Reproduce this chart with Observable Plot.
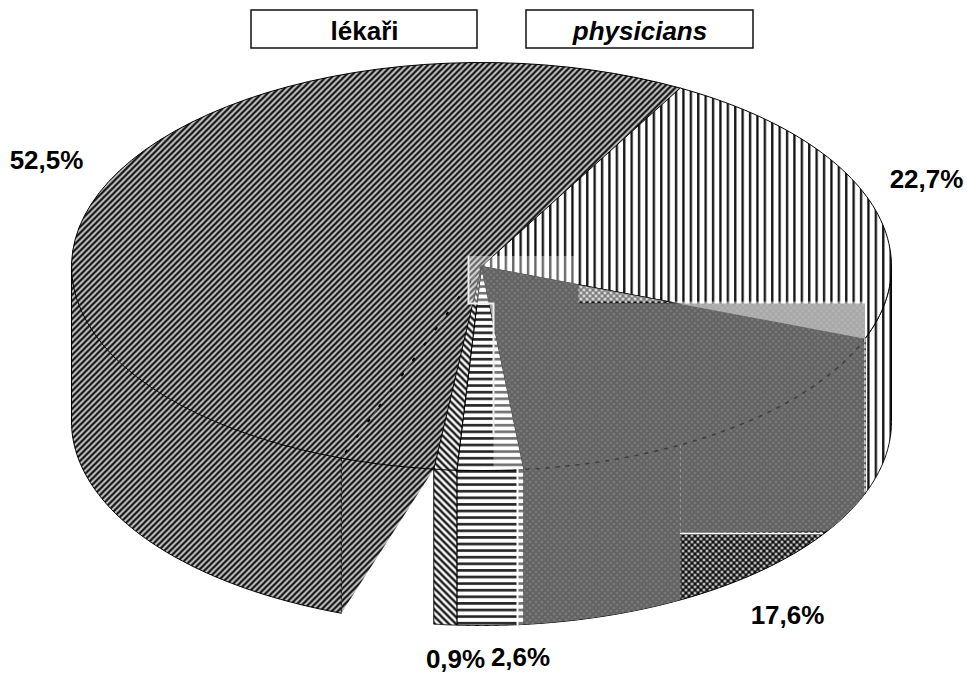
<!DOCTYPE html>
<html><head><meta charset="utf-8">
<script src="https://cdn.jsdelivr.net/npm/d3@7"></script>
<script src="https://cdn.jsdelivr.net/npm/@observablehq/plot@0.6"></script>
<style>html,body{margin:0;background:#fff}svg{display:block}</style>
</head><body>
<svg width="0" height="0" style="position:absolute"><defs>
<pattern id="pDiag" width="6" height="6" patternUnits="userSpaceOnUse"><rect width="6" height="6" fill="#dcdcdc"/><path d="M-1,1L1,-1M-1,7L7,-1M5,7L7,5" stroke="#0c0c0c" stroke-width="2.3"/></pattern>
<pattern id="pBack" width="7" height="7" patternUnits="userSpaceOnUse"><rect width="7" height="7" fill="#fff"/><path d="M-1,6L1,8M-1,-1L8,8M6,-1L8,1" stroke="#111" stroke-width="2.3"/></pattern>
<pattern id="pVert" width="7.4" height="8" patternUnits="userSpaceOnUse"><rect width="7.4" height="8" fill="#fff"/><rect x="1" width="2.3" height="8" fill="#111"/></pattern>
<pattern id="pHorz" width="8" height="6.6" patternUnits="userSpaceOnUse"><rect width="8" height="6.6" fill="#fff"/><rect y="1" width="8" height="2.6" fill="#222"/></pattern>
<pattern id="pCheck" width="6" height="6" patternUnits="userSpaceOnUse"><rect width="6" height="6" fill="#111"/><circle cx="1.5" cy="1.5" r="1.3" fill="#fff"/><circle cx="4.5" cy="4.5" r="1.3" fill="#fff"/></pattern>
<pattern id="pGray" width="6" height="6" patternUnits="userSpaceOnUse"><rect width="6" height="6" fill="#626262"/><circle cx="1.5" cy="1.5" r="1.1" fill="#8b8b8b"/><circle cx="4.5" cy="4.5" r="1.1" fill="#8b8b8b"/></pattern>
</defs></svg>
<script>
// Data
const categories = ["22,7%", "17,6%", "2,6%", "0,9%", "", "52,5%"];
const shares = [22.7, 17.6, 2.6, 0.9, 3.7, 52.5];
const fills = ["url(#pVert)", "url(#pCheck)", "url(#pHorz)", "url(#pBack)", "none", "url(#pDiag)"];
const titles = ["lékaři", "physicians"];

// Pie geometry
const cx = 481, cy = 266, rx = 410, ry = 204, depth = 155, start = 29;
const rim = (deg, drop = 0) => {
  const a = deg * Math.PI / 180;
  return {x: cx + rx * Math.sin(a), y: cy - ry * Math.cos(a) + drop};
};
const arc = (a0, a1, drop = 0) => d3.range(0, 61).map((i) => rim(a0 + (a1 - a0) * i / 60, drop));
let acc = start;
const slices = shares.map((v, i) => {
  const a0 = acc, a1 = acc + v * 3.6;
  acc = a1;
  return {label: categories[i], fill: fills[i], a0, a1};
});
const [sVert, sCheck, sHorz, sBack, sGap, sDiag] = slices;
const C = {x: cx, y: cy};
const face = (s) => [C, ...arc(s.a0, s.a1), C];
const wall = (a0, a1) => { const r = [...arc(a0, a1), ...arc(a1, a0, depth)]; r.push(r[0]); return r; };
const poly = (pts, fill, o = {}) => Plot.line(pts, {x: "x", y: "y", fill, stroke: "#000", strokeWidth: 1, curve: "linear", ...o});

const p340 = rim(sDiag.a0), p340b = rim(sDiag.a0, depth), pNotch = rim(sBack.a1);
const grayEdge = rim(sVert.a1);
const grayBottom = rim(sVert.a1, depth);
const horzEdge = rim(sCheck.a1);

// Scan patches over the 17,6% slice (the paste-up of the original page)
const patchTop = 303, patchLeft = 578, darkLeft = 680, darkTop = 533, seamX = 493, seamWall = 517;
const edgeY = (x) => cy + (grayEdge.y - cy) * (x - cx) / (grayEdge.x - cx);
const outerLow = arc(sVert.a1, sCheck.a1, depth);
const lowY = (x) => cy + depth + ry * Math.sqrt(1 - ((x - cx) / rx) ** 2);
const grayPoly = [
  C, {x: patchLeft, y: edgeY(patchLeft)}, {x: patchLeft, y: patchTop}, {x: grayEdge.x, y: patchTop},
  grayEdge, grayBottom,
  ...outerLow.filter((p) => p.x < grayBottom.x && p.y < darkTop),
  {x: darkLeft, y: darkTop}, {x: darkLeft, y: lowY(darkLeft)},
  ...outerLow.filter((p) => p.x <= darkLeft && p.x >= horzEdge.x),
  {x: horzEdge.x, y: horzEdge.y}, C
];
// light bands left by the paste-up
const lightBand = [{x: patchLeft, y: patchTop - 2}, {x: grayEdge.x, y: patchTop - 2}, grayEdge, {x: patchLeft, y: edgeY(patchLeft)}, {x: patchLeft, y: patchTop - 2}];
const wedgeX = (y) => cx + (horzEdge.x - cx) * (y - cy) / (horzEdge.y - cy);
const lightWedge = [{x: seamX, y: patchTop}, {x: wedgeX(patchTop), y: patchTop}, horzEdge, {x: seamX, y: horzEdge.y}, {x: seamX, y: patchTop}];
const lightWall = [{x: seamWall, y: horzEdge.y}, horzEdge, {x: horzEdge.x, y: lowY(horzEdge.x)}, {x: seamWall, y: lowY(seamWall)}, {x: seamWall, y: horzEdge.y}];

const labelPlace = [
  {i: 5, x: 46, y: 168}, {i: 0, x: 926, y: 187}, {i: 1, x: 787, y: 623}, {i: 3, x: 455, y: 667}, {i: 2, x: 520, y: 665}
].map((d) => ({...d, text: categories[d.i]}));
const boxes = [{t: titles[0], x1: 251, x2: 477}, {t: titles[1], x1: 526, x2: 753}];
const titleText = (d, fontStyle) => Plot.text([d], {x: (e) => (e.x1 + e.x2) / 2, y: () => 39, text: "t", fontStyle, fontFamily: "Liberation Sans", fontWeight: "bold", fontSize: 26, lineAnchor: "bottom", fill: "#000"});

const plot = Plot.plot({
  width: 967, height: 674, margin: 0,
  x: {axis: null, domain: [0, 967], range: [0, 967]},
  y: {axis: null, domain: [0, 674], range: [0, 674]},
  marks: [
    // walls
    poly(wall(sDiag.a0, 270), sDiag.fill, {stroke: "none"}),
    poly([p340, p340b, pNotch, p340], sDiag.fill, {stroke: "none"}),
    poly(arc(sDiag.a0, 270, depth), "none"),
    poly([rim(270), rim(270, depth)], "none"),
    poly(wall(90, sVert.a1), sVert.fill),
    poly(wall(sVert.a1, sCheck.a1), sCheck.fill),
    poly(wall(sHorz.a0, sHorz.a1), sHorz.fill),
    poly(wall(sBack.a0, sBack.a1), sBack.fill),
    // top faces: the hatch of the big slice runs on over the empty 3,7% wedge
    poly(face(sGap), sDiag.fill, {stroke: "none"}),
    poly(face(sDiag), sDiag.fill, {stroke: "none"}),
    poly(arc(sGap.a0, sDiag.a1), "none"),
    poly(face(sVert), sVert.fill),
    poly(face(sCheck), sCheck.fill),
    poly(face(sHorz), sHorz.fill),
    poly(face(sBack), sBack.fill),
    // cut edge of the big slice
    poly([C, p340], "none", {stroke: "#000", strokeWidth: 2, strokeDasharray: "2 17"}),
    poly([p340, p340b], "none", {strokeDasharray: "3 3"}),
    // paste-up patch
    Plot.rect([{x1: 468, x2: patchLeft, y1: 256, y2: patchTop}], {x1: "x1", x2: "x2", y1: "y1", y2: "y2", fill: "#fff", fillOpacity: 0.35}),
    poly(grayPoly, "url(#pGray)", {stroke: "none"}),
    poly(lightBand, "#fff", {stroke: "none", fillOpacity: 0.45}),
    poly(lightWedge, "#fff", {stroke: "none", fillOpacity: 0.35}),
    poly(lightWall, "#fff", {stroke: "none", fillOpacity: 0.35}),
    poly(arc(sVert.a1, sCheck.a1), "none", {stroke: "#222", strokeWidth: 1.5, strokeDasharray: "3 7", strokeOpacity: 0.6}),
    Plot.line([{x: 468, y: 256}, {x: 468, y: patchTop}, {x: seamX, y: patchTop}, {x: seamX, y: 435}], {x: "x", y: "y", stroke: "#eee", strokeWidth: 2}),
    Plot.line([{x: seamWall, y: horzEdge.y}, {x: seamWall, y: lowY(seamWall)}], {x: "x", y: "y", stroke: "#fff", strokeWidth: 2}),
    Plot.line([{x: darkLeft, y: darkTop}, {x: 822, y: darkTop}], {x: "x", y: "y", stroke: "#fff", strokeWidth: 1.5}),
    Plot.line([{x: grayEdge.x, y: grayEdge.y}, {x: grayEdge.x, y: grayBottom.y}], {x: "x", y: "y", stroke: "#ddd", strokeWidth: 1.5, strokeDasharray: "3 3"}),
    Plot.line([{x: darkLeft, y: 445}, {x: darkLeft, y: darkTop}], {x: "x", y: "y", stroke: "#999", strokeWidth: 1, strokeDasharray: "2 4"}),
    // labels
    Plot.text(labelPlace, {x: "x", y: "y", text: "text", fontFamily: "Liberation Sans", fontWeight: "bold", fontSize: 26, lineAnchor: "bottom", fill: "#000"}),
    // title boxes
    Plot.rect(boxes, {x1: "x1", x2: "x2", y1: () => 10, y2: () => 48, fill: "#fff", stroke: "#111", strokeWidth: 1.5}),
    titleText(boxes[0], "normal"),
    titleText(boxes[1], "italic")
  ]
});
document.body.appendChild(plot);
</script></body></html>
